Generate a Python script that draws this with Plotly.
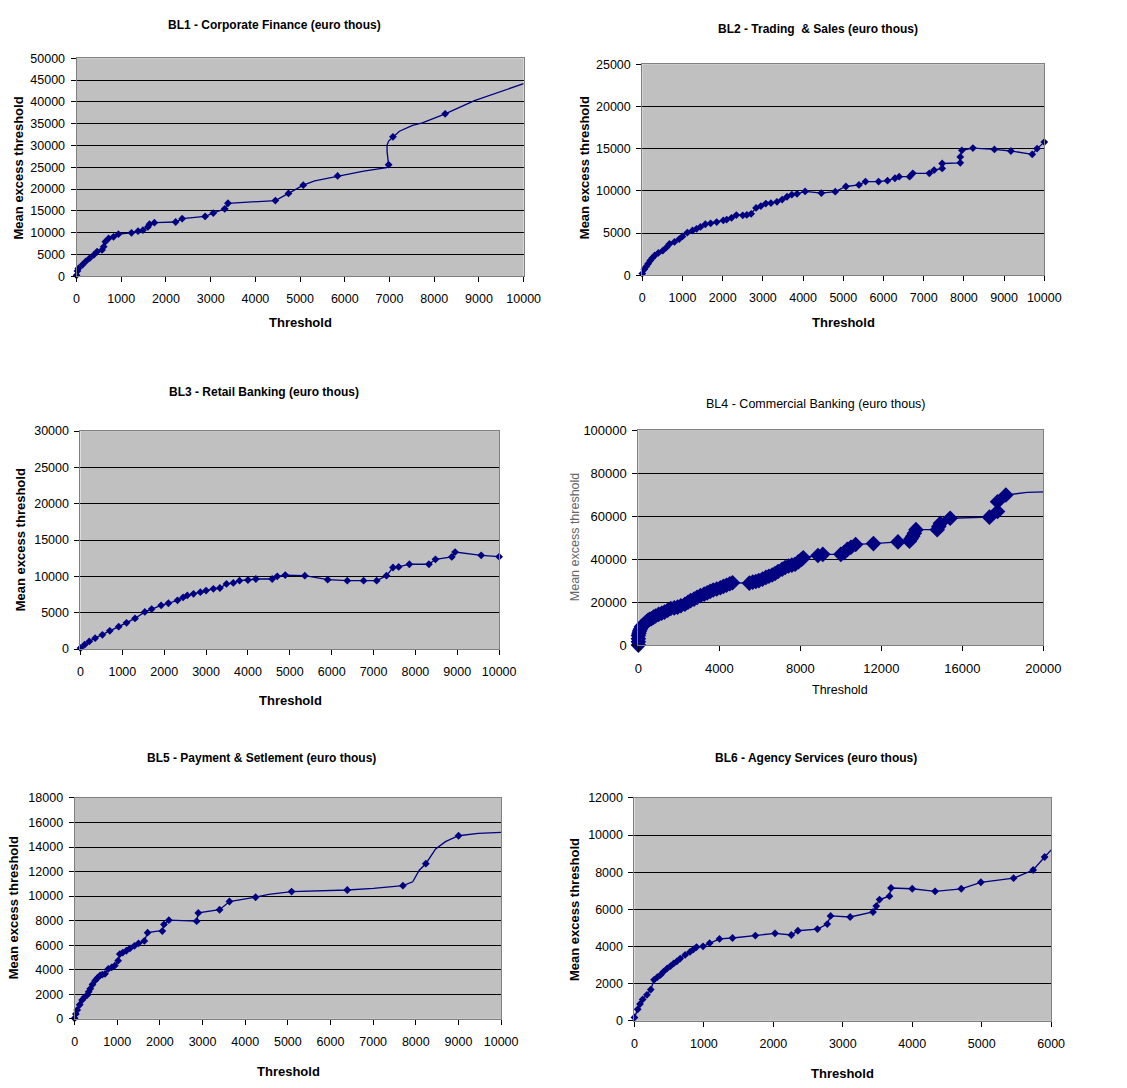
import plotly.graph_objects as go

W, H = 1127, 1088          # target picture size
OFF = 0                    # no page margin
FW, FH = W - 2 * OFF, H - 2 * OFF

# ---------------- data ----------------
titles = [
    "BL1 - Corporate Finance (euro thous)",
    "BL2 - Trading  & Sales (euro thous)",
    "BL3 - Retail Banking (euro thous)",
    "BL4 - Commercial Banking (euro thous)",
    "BL5 - Payment & Setlement (euro thous)",
    "BL6 - Agency Services (euro thous)",
]
x_title = "Threshold"
y_title = "Mean excess threshold"

x_ranges = [[0, 10000], [0, 10000], [0, 10000], [0, 20000], [0, 10000], [0, 6000]]
x_dticks = [1000, 1000, 1000, 4000, 1000, 1000]
y_ranges = [[0, 50000], [0, 25000], [0, 30000], [0, 100000], [0, 18000], [0, 12000]]
y_dticks = [5000, 5000, 5000, 20000, 2000, 2000]

# BL1
bl1_x = [0, 20, 40, 132, 205, 293, 388, 461, 570, 607, 644, 717, 827, 936, 1229, 1375, 1485,
         1595, 1631, 1741, 2216, 2362, 2875, 3058, 3314, 3387, 4008, 4447, 4740, 4960, 5070,
         5326, 5838, 6423, 6935, 6980, 6945, 6945, 6980, 7077, 7222, 7515, 7735, 8245, 8900, 10000]
bl1_y = [200, 1200, 1800, 2640, 3390, 4150, 4900, 5650, 6030, 6790, 7920, 8670, 9050, 9650, 9950,
         10330, 10560, 11310, 11920, 12290, 12440, 13200, 13730, 14480, 15460, 16740, 17040,
         17350, 19000, 20360, 20890, 21870, 23000, 24130, 24890, 25600, 28570, 30090, 31000,
         31970, 33260, 34600, 35200, 37260, 40270, 44200]
bl1_mx = [0, 20, 40, 132, 205, 293, 388, 461, 570, 607, 644, 717, 827, 936, 1229, 1375, 1485,
          1595, 1631, 1741, 2216, 2362, 2875, 3058, 3314, 3387, 4447, 4740, 5070, 5838, 6980,
          7077, 8245]
bl1_my = [200, 1200, 1800, 2640, 3390, 4150, 4900, 5650, 6030, 6790, 7920, 8670, 9050, 9650,
          9950, 10330, 10560, 11310, 11920, 12290, 12440, 13200, 13730, 14480, 15460, 16740,
          17350, 19000, 20890, 23000, 25600, 31970, 37260]

# BL2
bl2_x = [0, 50, 100, 146, 200, 250, 309, 400, 512, 600, 675, 800, 919, 1000, 1122, 1250, 1350,
         1447, 1569, 1700, 1850, 2016, 2100, 2220, 2340, 2500, 2600, 2707, 2830, 2950, 3073, 3200,
         3350, 3480, 3600, 3720, 3850, 4050, 4455, 4800, 5065, 5390, 5553, 5878, 6100, 6285,
         6390, 6650, 6730, 7140, 7260, 7460, 7460, 7910, 7910, 7950, 8225, 8760, 9170, 9700,
         9820, 10000]
bl2_y = [195, 700, 1050, 1360, 1750, 2050, 2340, 2650, 2920, 3300, 3700, 3950, 4280, 4600, 5060,
         5300, 5500, 5720, 6040, 6150, 6300, 6500, 6600, 6800, 7130, 7100, 7150, 7280, 7980, 8200,
         8490, 8550, 8700, 8960, 9300, 9540, 9650, 9930, 9735, 9900, 10514, 10700, 11100, 11100,
         11200, 11490, 11680, 11680, 12070, 12070, 12460, 12650, 13240, 13320, 14020, 14800,
         15070, 14910, 14720, 14330, 15000, 15770]

# BL3
bl3_x = [0, 100, 210, 350, 523, 700, 913, 1100, 1303, 1537, 1700, 1927, 2100, 2317, 2451, 2551,
         2700, 2863, 3000, 3175, 3330, 3487, 3650, 3799, 4000, 4189, 4579, 4700, 4891, 5359,
         5905, 6373, 6763, 7075, 7309, 7465, 7600, 7855, 8323, 8479, 8869, 8947, 9571, 10000]
bl3_y = [135, 600, 1040, 1500, 1950, 2500, 3080, 3600, 4210, 5110, 5500, 6020, 6300, 6700, 7100,
         7380, 7600, 7830, 8050, 8280, 8400, 8960, 9100, 9410, 9500, 9640, 9640, 10000, 10180,
         10090, 9550, 9410, 9410, 9410, 10090, 11220, 11300, 11670, 11670, 12350, 12670, 13350,
         12900, 12710]

# BL4
bl4_x = [0, 0, 20, 80, 150, 320, 450, 645, 850, 1000, 1290, 1600, 1935, 2300, 2580, 2900, 3065,
         3400, 3870, 4200, 4516, 5484, 5800, 6130, 6610, 7100, 7419, 7740, 8145, 8870, 9110,
         10000, 10160, 10320, 10730, 11610, 12820, 13390, 13550, 13710, 14760, 14920, 15400,
         17340, 17740, 17740, 18150, 19194, 20323]
bl4_y = [0, 3000, 4500, 6000, 7500, 9200, 10500, 12270, 13500, 14500, 15340, 17000, 17640, 19000,
         20700, 22200, 23000, 24500, 26070, 27500, 29000, 28800, 29500, 30700, 32200, 35300,
         36810, 37600, 40600, 41700, 42200, 42200, 43000, 46000, 46800, 47200, 48000, 48300,
         50600, 53700, 53700, 56700, 59000, 59500, 62100, 66700, 69800, 71010, 71320]
bl4_mx = [0, 0, 0, 0, 30, 60, 100, 150, 200, 260, 320, 400, 480, 560, 645, 750, 850, 1000, 1150,
          1290, 1450, 1600, 1770, 1935, 2100, 2300, 2450, 2580, 2750, 2900, 3065, 3250, 3400,
          3550, 3700, 3870, 4050, 4200, 4350, 4516, 4650, 5484, 5650, 5800, 5950, 6130, 6300,
          6450, 6610, 6750, 6900, 7100, 7250, 7419, 7580, 7740, 7900, 8050, 8145, 8870, 9110,
          10000, 10160, 10320, 10500, 10730, 11610, 12820, 13390, 13470, 13550, 13630, 13710,
          14760, 14840, 14920, 15400, 17340, 17740, 17740, 18150]
bl4_my = [0, 1500, 3000, 4500, 5500, 6500, 7500, 8500, 9000, 9500, 10000, 10800, 11500, 12000,
          12270, 13000, 13500, 14300, 14800, 15340, 16200, 17000, 17300, 17640, 18300, 19000,
          19900, 20700, 21400, 22200, 23000, 23700, 24300, 25000, 25600, 26070, 26700, 27300,
          27800, 28500, 29000, 28800, 29300, 29600, 30000, 30700, 31500, 32000, 32600, 33300,
          34200, 35300, 36100, 36810, 37200, 37600, 38700, 39800, 40600, 41700, 42200, 42200,
          43000, 44500, 45500, 46800, 47200, 48000, 48300, 49500, 50600, 52000, 53700, 53700,
          55200, 56700, 59000, 59500, 62100, 66700, 69800]

# BL5
bl5_x = [0, 30, 61, 120, 177, 230, 292, 330, 368, 420, 484, 540, 599, 650, 714, 790, 870, 944,
         1021, 1059, 1130, 1213, 1300, 1404, 1500, 1635, 1712, 1942, 2057, 2095, 2210, 2862,
         2900, 3400, 3630, 4244, 4551, 5088, 6393, 7007, 7698, 7928, 8081, 8235, 8465, 8695,
         9002, 9463, 10000]
bl5_y = [50, 400, 720, 1150, 1530, 1750, 1930, 2200, 2460, 2800, 3130, 3350, 3540, 3600, 3670,
         4070, 4200, 4340, 4740, 5280, 5400, 5550, 5750, 5950, 6150, 6350, 7020, 7150, 7150,
         7690, 8040, 7960, 8630, 8890, 9560, 9910, 10150, 10370, 10500, 10630, 10850, 11170,
         12110, 12640, 13850, 14440, 14920, 15110, 15190]
bl5_mx = [0, 30, 61, 120, 177, 230, 292, 330, 368, 420, 484, 540, 599, 650, 714, 790, 870, 944,
          1021, 1059, 1130, 1213, 1300, 1404, 1500, 1635, 1712, 2057, 2095, 2210, 2862, 2900,
          3400, 3630, 4244, 5088, 6393, 7698, 8235, 9002]
bl5_my = [50, 400, 720, 1150, 1530, 1750, 1930, 2200, 2460, 2800, 3130, 3350, 3540, 3600, 3670,
          4070, 4200, 4340, 4740, 5280, 5400, 5550, 5750, 5950, 6150, 6350, 7020, 7150, 7690,
          8040, 7960, 8630, 8890, 9560, 9910, 10370, 10500, 10850, 12640, 14920]

# BL6
bl6_x = [0, 47, 80, 118, 180, 235, 282, 330, 376, 420, 471, 520, 565, 610, 659, 730, 800, 850,
         894, 988, 1082, 1224, 1412, 1741, 2024, 2259, 2353, 2635, 2776, 2824, 3106, 3435, 3482,
         3529, 3671, 3694, 4000, 4329, 4706, 4988, 5459, 5741, 5906, 6015]
bl6_y = [180, 620, 900, 1150, 1400, 1680, 2210, 2350, 2470, 2650, 2820, 2950, 3090, 3200, 3350,
         3550, 3710, 3850, 3970, 4010, 4180, 4410, 4460, 4590, 4710, 4620, 4850, 4940, 5210,
         5650, 5590, 5860, 6180, 6530, 6710, 7150, 7110, 6970, 7110, 7460, 7680, 8120, 8820, 9260]

lines = [(bl1_x, bl1_y), (bl2_x, bl2_y), (bl3_x, bl3_y), (bl4_x, bl4_y), (bl5_x, bl5_y), (bl6_x, bl6_y)]
marks = [(bl1_mx, bl1_my), (bl2_x, bl2_y), (bl3_x, bl3_y), (bl4_mx, bl4_my), (bl5_mx, bl5_my),
         (bl6_x, bl6_y)]

# ---------------- layout geometry (pixels in the target picture) ----------------
plot_px = [  # left, right, top, bottom
    (74, 530, 52, 273),
    (651, 1061, 58, 272),
    (78, 505, 430, 651),
    (647, 1060, 429, 647),
    (72, 507, 802, 1026),
    (643, 1068, 802, 1028),
]
title_pos = [(276, 18), (830, 22), (265, 390), (828, 403), (263, 762), (828, 762)]
xt_pos = [(302, 320), (856, 320), (292, 703), (853, 693), (290, 1079), (855, 1081)]
yt_pos = [(15, 163), (592, 163), (17, 540), (582, 537), (10, 913), (582, 915)]


def px_x(p):
    return (p - OFF) / FW


def px_y(p):
    return 1 - (p - OFF) / FH


NAVY = "#000080"
FONT = "Arial, Liberation Sans, sans-serif"

fig = go.Figure()
layout = dict(
    width=FW, height=FH, margin=dict(l=0, r=0, t=0, b=0),
    paper_bgcolor="white", plot_bgcolor="#c0c0c0",
    showlegend=False, annotations=[],
    font=dict(family=FONT, color="black"),
)

for i in range(6):
    n = "" if i == 0 else str(i + 1)
    xa, ya = "x" + n, "y" + n
    l, r, t, b = plot_px[i]
    regular = (i == 3)
    lx, ly = lines[i]
    mx, my = marks[i]
    fig.add_trace(go.Scatter(x=lx, y=ly, mode="lines", xaxis=xa, yaxis=ya,
                             line=dict(color=NAVY, width=1.3), hoverinfo="skip"))
    fig.add_trace(go.Scatter(x=mx, y=my, mode="markers", xaxis=xa, yaxis=ya,
                             marker=dict(symbol="diamond", size=12 if regular else 6, color=NAVY,
                                         line=dict(width=0)), cliponaxis=False))
    tick_font = dict(family=FONT, size=13 if regular else 12.5, color="black")
    layout["xaxis" + n] = dict(
        domain=[px_x(l), px_x(r)], anchor=ya, range=x_ranges[i], dtick=x_dticks[i], tick0=0,
        tickformat="d",
        showgrid=False, showline=True, mirror=True, linecolor="#808080", linewidth=1,
        zeroline=True, zerolinecolor="black", zerolinewidth=1,
        ticks="outside", ticklen=5, tickcolor="black", tickfont=tick_font,
        ticklabelstandoff=6, fixedrange=True,
    )
    layout["yaxis" + n] = dict(
        domain=[px_y(b), px_y(t)], anchor=xa, range=y_ranges[i], dtick=y_dticks[i], tick0=0,
        tickformat="d",
        showgrid=True, gridcolor="black", gridwidth=1,
        showline=True, mirror=True, linecolor="#808080", linewidth=1,
        zeroline=True, zerolinecolor="black", zerolinewidth=1,
        ticks="outside", ticklen=5, tickcolor="black", tickfont=tick_font,
        ticklabelstandoff=3, fixedrange=True,
    )
    tx, ty = title_pos[i]
    layout["annotations"].append(dict(
        text=titles[i] if regular else "<b>" + titles[i] + "</b>",
        x=px_x(tx), y=px_y(ty), xref="paper", yref="paper", xanchor="center", yanchor="middle",
        showarrow=False, font=dict(family=FONT, size=12.5 if regular else 12, color="black")))
    ax_, ay_ = xt_pos[i]
    layout["annotations"].append(dict(
        text=x_title if regular else "<b>" + x_title + "</b>",
        x=px_x(ax_), y=px_y(ay_), xref="paper", yref="paper", xanchor="center", yanchor="middle",
        showarrow=False, font=dict(family=FONT, size=12.5 if regular else 13, color="black")))
    bx, by = yt_pos[i]
    layout["annotations"].append(dict(
        text=y_title if regular else "<b>" + y_title + "</b>", textangle=-90,
        x=px_x(bx), y=px_y(by), xref="paper", yref="paper", xanchor="center", yanchor="middle",
        showarrow=False,
        font=dict(family=FONT, size=12.5 if regular else 13, color="#666666" if regular else "black")))

fig.update_layout(**layout)
fig.write_html("out.html")
